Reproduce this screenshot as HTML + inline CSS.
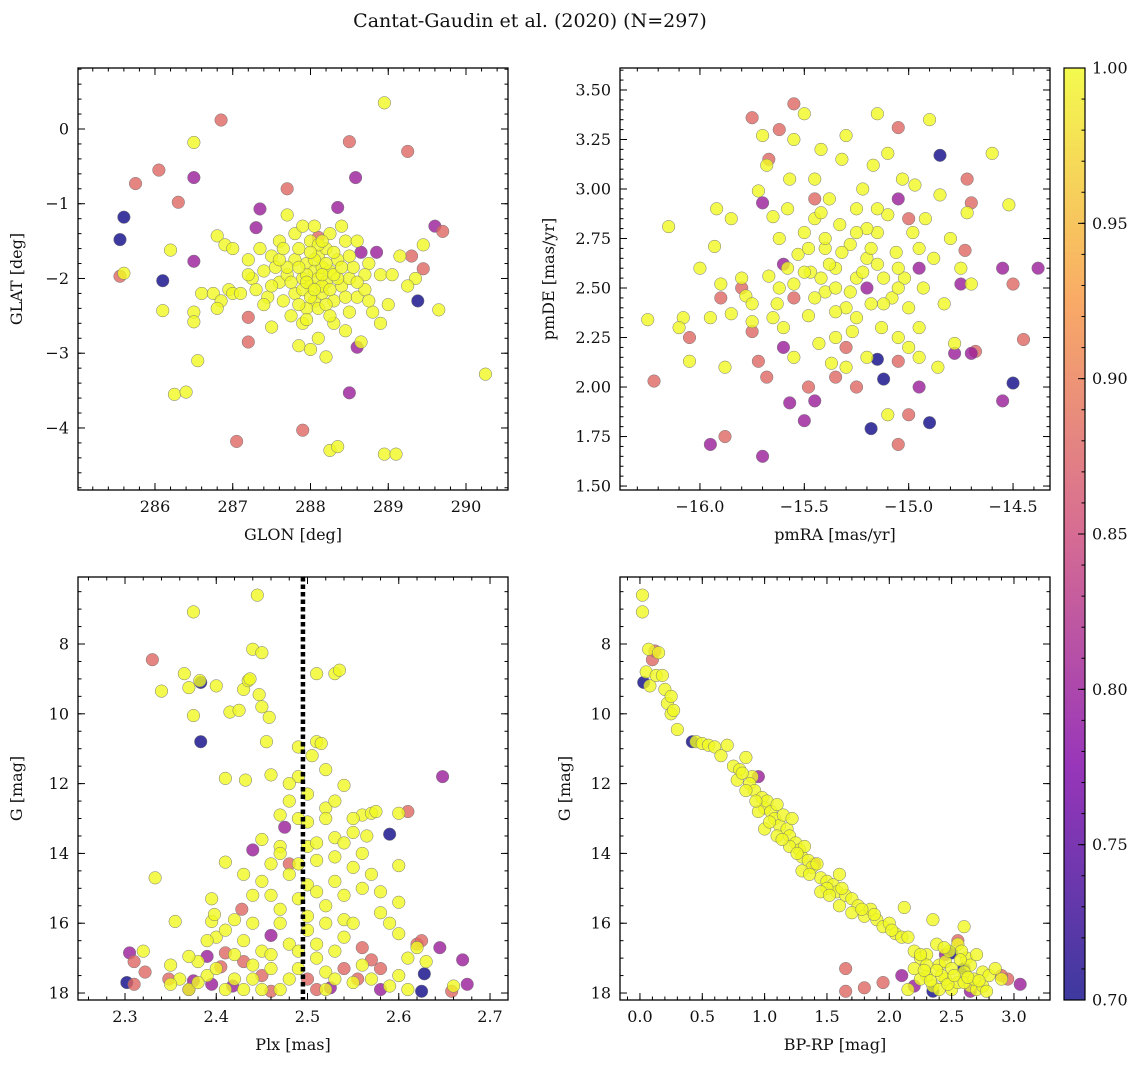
<!DOCTYPE html>
<html><head><meta charset="utf-8"><style>
html,body{margin:0;padding:0;background:#fff;}
svg text{font-family:"DejaVu Serif","Liberation Serif",serif;fill:#111;}
</style></head><body>
<svg id="fig" width="1148" height="1067" viewBox="0 0 1148 1067" xmlns="http://www.w3.org/2000/svg">
<defs>
<linearGradient id="cmap" x1="0" y1="1" x2="0" y2="0">
<stop offset="0" stop-color="#0d0887"/><stop offset="0.25" stop-color="#7e03a8"/>
<stop offset="0.5" stop-color="#cc4778"/><stop offset="0.75" stop-color="#f89540"/>
<stop offset="1" stop-color="#f0f921"/></linearGradient></defs>
<text x="530" y="27" font-size="19" text-anchor="middle">Cantat-Gaudin et al. (2020) (N=297)</text>
</svg>
<script>
// ---- data: [x, y, membership probability] ----
const p1Data=[[285.55,-1.48,0.7],[285.6,-1.18,0.7],[285.55,-1.97,0.88],[285.75,-0.73,0.88],[286.05,-0.55,0.88],[286.1,-2.03,0.7],[286.3,-0.98,0.88],[286.5,-0.65,0.8],[286.5,-1.77,0.8],[286.85,0.12,0.88],[287.05,-4.18,0.88],[287.2,-2.52,0.88],[287.2,-2.85,0.88],[287.3,-1.32,0.8],[287.35,-1.07,0.8],[287.7,-0.8,0.88],[287.9,-4.03,0.88],[288.35,-1.05,0.8],[288.5,-0.17,0.88],[288.5,-3.53,0.8],[288.58,-0.65,0.8],[288.6,-2.92,0.8],[288.65,-1.65,0.8],[288.85,-1.65,0.8],[289.25,-0.3,0.88],[289.3,-1.7,0.88],[289.38,-2.3,0.7],[289.45,-1.87,0.88],[289.6,-1.3,0.8],[289.7,-1.37,0.88],[288.1,-1.45,0.88],
[285.6,-1.93,1],[286.1,-2.43,1],[286.2,-1.62,1],[286.25,-3.55,1],[286.4,-3.52,1],[286.5,-0.18,1],[286.5,-2.45,1],[286.5,-2.58,1],[286.55,-3.1,1],[286.6,-2.2,1],[286.75,-2.2,1],[286.8,-1.43,1],[286.85,-2.3,1],[286.9,-1.55,1],[286.95,-2.15,1],[287.0,-2.2,1],[287.1,-2.2,1],[287.2,-1.75,1],[287.25,-2.0,1],[287.3,-2.15,1],[287.35,-1.6,1],[287.4,-1.9,1],[287.45,-2.25,1],[287.5,-1.7,1],[287.55,-1.85,1],[287.6,-1.5,1],[287.6,-2.05,1],[287.65,-2.3,1],[287.7,-1.15,1],[287.7,-1.95,1],[287.75,-2.5,1],[287.8,-1.75,1],[287.8,-2.2,1],[287.85,-1.6,1],[287.9,-2.0,1],[287.9,-2.6,1],[287.95,-1.8,1],[288.0,-2.1,1],[288.0,-2.95,1],[288.0,-1.5,1],[288.05,-1.9,1],[288.05,-2.3,1],[288.1,-1.7,1],[288.1,-2.0,1],[288.1,-2.8,1],[288.15,-1.85,1],[288.15,-2.2,1],[288.2,-1.6,1],[288.2,-2.05,1],[288.2,-3.05,1],[288.25,-1.4,1],[288.25,-1.9,1],[288.25,-4.3,1],[288.3,-2.3,1],[288.3,-2.6,1],[288.35,-1.75,1],[288.35,-4.25,1],[288.4,-2.1,1],[288.4,-1.3,1],[288.45,-1.5,1],[288.5,-2.0,1],[288.5,-2.45,1],[288.55,-1.85,1],[288.6,-2.25,1],[288.65,-2.85,1],[288.7,-2.15,1],[288.75,-1.8,1],[288.8,-2.45,1],[288.9,-1.95,1],[288.9,-2.6,1],[288.95,-4.35,1],[288.95,0.35,1],[289.0,-2.35,1],[289.05,-1.95,1],[289.1,-4.35,1],[289.15,-1.7,1],[289.35,-2.0,1],[289.45,-1.55,1],[289.65,-2.42,1],[290.25,-3.28,1],[287.5,-2.65,1],[287.0,-1.6,1],[286.8,-2.4,1],[288.6,-1.5,1],[287.85,-2.9,1],[287.95,-2.4,1],[288.3,-1.65,1],[287.2,-1.95,1],[288.75,-2.3,1],[289.25,-2.1,1],[288.45,-2.7,1],[287.95,-1.95,1],[288.05,-1.75,1],[288.15,-2.1,1],[287.9,-2.15,1],[288.2,-1.8,1],[288.0,-2.25,1],[288.1,-1.55,1],[287.8,-1.4,1],[288.35,-2.0,1],[287.7,-1.85,1],
[287.85,-1.85,1],[287.95,-2.05,1],[288.05,-2.15,1],[288.15,-1.95,1],[288.25,-2.15,1],[287.75,-2.05,1],[288.0,-1.65,1],[288.1,-2.4,1],[287.9,-1.3,1],[288.3,-1.95,1],[288.4,-1.85,1],[287.6,-1.75,1],[287.5,-2.1,1],[288.5,-1.7,1],[288.2,-2.35,1],[287.95,-2.55,1],[288.05,-1.3,1],[287.65,-1.6,1],[288.45,-2.25,1],[288.7,-1.95,1],[287.4,-2.35,1],[288.6,-2.05,1],[287.85,-2.35,1],[288.25,-2.5,1],[288.15,-1.5,1]];
const p2Data=[[-15.75,3.36,0.88],[-15.55,3.43,0.88],[-15.62,3.3,0.88],[-15.67,3.15,0.88],[-15.05,3.31,0.88],[-14.85,3.17,0.7],[-14.72,3.05,0.88],[-14.7,2.93,0.88],[-14.73,2.69,0.88],[-14.75,2.52,0.8],[-14.55,2.6,0.8],[-14.38,2.6,0.8],[-14.5,2.52,0.88],[-14.45,2.24,0.88],[-14.68,2.18,0.88],[-14.7,2.17,0.8],[-14.78,2.17,0.8],[-14.5,2.02,0.7],[-14.55,1.93,0.8],[-14.95,2.0,0.8],[-14.9,1.82,0.7],[-15.0,1.86,0.88],[-15.05,1.71,0.88],[-15.05,2.13,0.88],[-15.15,2.14,0.7],[-15.12,2.04,0.7],[-15.18,1.79,0.7],[-15.45,1.93,0.8],[-15.5,1.83,0.8],[-15.7,1.65,0.8],[-15.95,1.71,0.8],[-15.88,1.75,0.88],[-16.22,2.03,0.88],[-16.05,2.25,0.88],[-15.9,2.45,0.88],[-15.75,2.28,0.88],[-15.72,2.13,0.88],[-15.68,2.05,0.88],[-15.6,2.2,0.8],[-15.6,2.62,0.8],[-15.57,1.92,0.8],[-15.7,2.93,0.8],[-15.48,2.0,0.88],[-15.3,2.2,0.88],[-15.35,2.05,0.88],[-15.0,2.85,0.88],[-15.05,2.95,0.8],[-14.95,2.6,0.8],[-15.8,2.5,0.88],[-15.45,2.95,0.88],[-15.25,2.0,0.88],[-15.55,2.45,0.88],[-15.2,2.5,0.8],
[-16.25,2.34,1],[-16.15,2.81,1],[-16.08,2.35,1],[-16.05,2.13,1],[-16.0,2.6,1],[-15.95,2.35,1],[-15.93,2.71,1],[-15.92,2.9,1],[-15.9,2.52,1],[-15.88,2.1,1],[-15.85,2.37,1],[-15.8,2.55,1],[-15.78,2.46,1],[-15.75,2.33,1],[-15.72,2.99,1],[-15.7,3.27,1],[-15.68,3.12,1],[-15.67,2.56,1],[-15.65,2.86,1],[-15.63,2.42,1],[-15.62,2.75,1],[-15.6,2.3,1],[-15.58,2.9,1],[-15.57,3.05,1],[-15.55,2.52,1],[-15.55,2.15,1],[-15.53,2.67,1],[-15.5,3.38,1],[-15.5,2.78,1],[-15.48,2.36,1],[-15.47,2.58,1],[-15.45,2.85,1],[-15.43,2.22,1],[-15.42,3.2,1],[-15.4,2.48,1],[-15.4,2.7,1],[-15.38,2.95,1],[-15.37,2.12,1],[-15.35,2.6,1],[-15.33,2.82,1],[-15.32,3.15,1],[-15.3,2.4,1],[-15.3,3.27,1],[-15.28,2.72,1],[-15.27,2.28,1],[-15.25,2.55,1],[-15.25,2.9,1],[-15.22,3.0,1],[-15.2,2.65,1],[-15.2,2.15,1],[-15.18,2.42,1],[-15.17,3.12,1],[-15.15,2.78,1],[-15.13,2.3,1],[-15.12,2.55,1],[-15.1,2.87,1],[-15.1,3.18,1],[-15.08,2.45,1],[-15.06,2.68,1],[-15.05,2.25,1],[-15.03,3.05,1],[-15.02,2.55,1],[-15.0,2.4,1],[-14.98,2.78,1],[-14.97,3.02,1],[-14.95,2.3,1],[-14.93,2.5,1],[-14.92,2.85,1],[-14.9,3.35,1],[-14.88,2.65,1],[-14.86,2.1,1],[-14.85,2.97,1],[-14.83,2.42,1],[-14.8,2.75,1],[-14.78,2.22,1],[-14.75,2.6,1],[-14.72,2.88,1],[-14.6,3.18,1],[-14.52,2.92,1],[-14.7,2.52,1],[-15.45,3.05,1],[-15.35,2.5,1],[-15.15,2.62,1],[-15.3,2.1,1],[-15.45,2.45,1],[-15.25,2.35,1],[-15.05,2.6,1],[-15.4,2.75,1],[-15.2,2.8,1],[-15.65,2.35,1],[-15.0,2.2,1],[-15.1,1.86,1],[-15.35,2.25,1],[-15.5,2.58,1],[-15.75,2.42,1],[-16.1,2.3,1],[-15.85,2.85,1],[-14.95,2.15,1],[-15.55,3.25,1],[-15.15,3.38,1],
[-15.38,2.62,1],[-15.28,2.48,1],[-15.32,2.68,1],[-15.22,2.58,1],[-15.42,2.55,1],[-15.18,2.7,1],[-15.48,2.7,1],[-15.12,2.42,1],[-15.35,2.38,1],[-15.25,2.78,1],[-15.58,2.6,1],[-15.05,2.5,1],[-15.42,2.88,1],[-15.15,2.9,1],[-15.62,2.5,1],[-14.95,2.7,1]];
const p3Data=[[2.302,17.7,0.7],[2.305,16.85,0.8],[2.31,17.1,0.88],[2.31,17.75,0.88],[2.322,17.4,0.88],[2.33,8.45,0.88],[2.348,17.6,0.88],[2.37,17.9,0.8],[2.375,17.65,0.8],[2.383,9.1,0.7],[2.383,10.8,0.7],[2.39,16.95,0.8],[2.395,17.75,0.8],[2.405,17.25,0.88],[2.41,16.85,0.88],[2.418,17.8,0.8],[2.428,15.6,0.88],[2.43,17.1,0.88],[2.44,13.9,0.8],[2.45,17.5,0.88],[2.46,17.95,0.88],[2.475,13.25,0.8],[2.48,14.3,0.88],[2.5,17.6,0.88],[2.51,17.9,0.88],[2.54,17.3,0.88],[2.555,17.6,0.88],[2.57,17.05,0.88],[2.58,17.3,0.88],[2.58,17.9,0.8],[2.59,13.45,0.7],[2.61,12.8,0.88],[2.62,16.6,0.88],[2.625,16.5,0.88],[2.628,17.45,0.7],[2.625,17.95,0.7],[2.645,16.7,0.8],[2.648,11.8,0.8],[2.658,17.95,0.88],[2.67,17.05,0.8],[2.675,17.75,0.8],[2.56,16.7,0.88],[2.525,17.85,0.8],[2.46,16.35,0.8],
[2.333,14.7,1],[2.34,9.35,1],[2.355,15.95,1],[2.365,8.85,1],[2.37,9.25,1],[2.375,7.08,1],[2.375,10.05,1],[2.382,9.05,1],[2.395,15.3,1],[2.395,15.95,1],[2.398,15.75,1],[2.4,9.2,1],[2.41,11.85,1],[2.41,14.25,1],[2.415,9.95,1],[2.425,9.9,1],[2.43,9.3,1],[2.432,11.9,1],[2.435,9.05,1],[2.437,9.0,1],[2.44,8.15,1],[2.445,6.6,1],[2.447,9.45,1],[2.45,8.25,1],[2.45,9.8,1],[2.455,10.8,1],[2.458,10.1,1],[2.46,11.75,1],[2.47,12.9,1],[2.48,12.5,1],[2.49,10.95,1],[2.49,11.8,1],[2.49,13.0,1],[2.5,13.8,1],[2.5,12.3,1],[2.505,11.2,1],[2.51,10.8,1],[2.515,10.85,1],[2.51,8.85,1],[2.52,11.6,1],[2.52,12.7,1],[2.53,8.85,1],[2.535,8.75,1],[2.53,13.55,1],[2.54,12.05,1],[2.55,14.4,1],[2.56,12.9,1],[2.57,12.85,1],[2.575,12.8,1],[2.565,13.5,1],[2.6,12.85,1],[2.6,14.35,1],[2.54,15.9,1],[2.55,16.0,1],[2.59,16.0,1],[2.6,16.3,1],[2.61,17.0,1],[2.62,16.7,1],[2.45,14.8,1],[2.46,15.2,1],[2.47,13.8,1],[2.48,14.6,1],[2.49,15.3,1],[2.5,14.9,1],[2.51,14.2,1],[2.52,15.5,1],[2.53,14.8,1],[2.47,16.0,1],[2.48,16.6,1],[2.5,16.2,1],[2.45,16.8,1],[2.44,17.2,1],[2.43,16.5,1],[2.42,17.6,1],[2.41,17.9,1],[2.4,16.4,1],[2.38,17.1,1],[2.36,17.6,1],[2.35,17.2,1],[2.37,17.9,1],[2.39,17.5,1],[2.45,17.9,1],[2.46,17.3,1],[2.48,17.6,1],[2.52,17.4,1],[2.53,16.8,1],[2.55,17.7,1],[2.56,17.2,1],[2.57,17.6,1],[2.59,17.8,1],[2.6,17.5,1],[2.61,17.9,1],[2.54,16.4,1],[2.52,16.0,1],[2.42,15.9,1],[2.44,15.2,1],[2.45,13.6,1],[2.46,14.3,1],[2.5,13.1,1],[2.51,13.7,1],[2.53,14.1,1],[2.55,13.4,1],[2.56,14.0,1],[2.57,14.6,1],[2.58,15.1,1],[2.6,15.4,1],[2.47,15.6,1],[2.49,16.8,1],[2.51,17.0,1],[2.54,15.2,1],[2.43,14.6,1],[2.48,12.0,1],[2.53,12.5,1],[2.55,13.0,1],[2.58,15.7,1],[2.52,17.9,1],[2.47,17.9,1],[2.43,17.9,1],[2.4,17.3,1],[2.39,16.5,1],[2.63,17.1,1],[2.66,17.8,1],[2.32,16.8,1],[2.35,17.75,1],[2.37,16.95,1],[2.51,16.6,1],[2.5,15.8,1],[2.49,14.3,1],[2.51,15.1,1],[2.52,13.0,1],[2.54,13.7,1],[2.56,15.0,1],[2.47,14.0,1],[2.44,16.0,1],[2.41,16.2,1],
[2.44,17.6,1],[2.46,16.9,1],[2.49,17.3,1],[2.42,16.9,1],[2.38,17.7,1],[2.53,17.6,1]];
const p4Data=[[0.03,9.1,0.7],[0.42,10.8,0.7],[0.1,8.45,0.88],[0.12,8.2,0.88],[0.95,11.8,0.8],[1.4,14.3,0.88],[1.65,17.3,0.88],[1.65,17.95,0.88],[1.8,17.85,0.88],[1.95,17.7,0.88],[2.1,17.5,0.8],[2.2,17.8,0.8],[2.45,16.9,0.8],[2.55,16.5,0.88],[2.6,17.3,0.7],[2.5,16.85,0.7],[2.35,17.95,0.7],[2.95,17.6,0.88],[3.05,17.75,0.8],[2.9,17.5,0.88],[2.65,17.95,0.8],
[0.02,6.6,1],[0.02,7.08,1],[0.05,8.8,1],[0.07,8.15,1],[0.08,9.2,1],[0.13,8.9,1],[0.15,8.25,1],[0.18,8.9,1],[0.2,9.3,1],[0.22,9.7,1],[0.25,10.0,1],[0.25,9.5,1],[0.3,10.45,1],[0.27,9.9,1],[0.45,10.8,1],[0.5,10.85,1],[0.55,10.9,1],[0.6,10.95,1],[0.65,11.2,1],[0.7,10.9,1],[0.75,11.5,1],[0.8,11.6,1],[0.85,11.25,1],[0.9,11.8,1],[0.88,12.0,1],[0.92,12.2,1],[0.98,12.4,1],[1.0,12.7,1],[1.02,12.5,1],[1.05,12.8,1],[1.08,13.0,1],[1.1,12.6,1],[1.12,13.2,1],[1.15,12.9,1],[1.18,13.3,1],[1.2,13.5,1],[1.22,13.0,1],[1.25,13.7,1],[1.28,13.9,1],[1.3,14.1,1],[1.32,13.8,1],[1.35,14.2,1],[1.38,14.4,1],[1.42,14.3,1],[1.45,14.7,1],[1.5,14.8,1],[1.55,14.9,1],[1.58,15.1,1],[1.6,14.6,1],[1.65,15.2,1],[1.7,15.3,1],[1.75,15.5,1],[1.8,15.8,1],[1.85,15.6,1],[1.9,15.9,1],[1.95,16.1,1],[2.0,16.0,1],[2.05,16.3,1],[2.1,16.4,1],[2.12,15.55,1],[2.15,16.4,1],[2.2,16.8,1],[2.25,17.0,1],[2.3,16.9,1],[2.35,15.9,1],[2.4,17.2,1],[2.45,17.1,1],[2.5,17.3,1],[2.55,16.6,1],[2.6,16.1,1],[2.62,17.0,1],[2.65,17.2,1],[2.7,16.9,1],[2.75,17.4,1],[2.8,17.5,1],[2.85,17.3,1],[2.9,17.6,1],[2.3,17.5,1],[2.35,17.8,1],[2.4,17.9,1],[2.45,17.6,1],[2.5,17.9,1],[2.55,17.7,1],[2.6,17.4,1],[2.65,17.8,1],[2.7,17.9,1],[2.75,17.8,1],[2.25,17.6,1],[2.2,17.3,1],[2.15,17.9,1],[2.38,16.6,1],[2.48,16.8,1],[2.58,16.8,1],[1.0,13.3,1],[1.1,13.5,1],[1.2,13.8,1],[1.3,14.5,1],[1.5,15.0,1],[1.45,15.1,1],[0.95,12.8,1],[0.85,12.2,1],[1.6,15.5,1],[1.7,15.7,1],[2.3,17.2,1],[2.42,17.5,1],[2.6,17.7,1],[2.68,17.6,1],
[0.78,11.9,1],[0.82,11.7,1],[0.93,12.5,1],[1.04,13.1,1],[1.14,13.6,1],[1.26,14.0,1],[1.36,14.6,1],[1.52,15.2,1],[1.62,15.0,1],[1.78,15.6,1],[1.88,15.75,1],[2.02,16.2,1],[2.28,17.35,1],[2.33,17.65,1],[2.38,17.35,1],[2.47,17.75,1],[2.52,17.5,1],[2.57,17.05,1],[2.63,17.55,1],[2.72,17.65,1],[2.78,17.95,1],[2.44,16.7,1],[2.25,16.9,1]];
const p1XTicks=[286,287,288,289,290], p1YTicks=[0,-1,-2,-3,-4];
const p2XTicks=[-16.0,-15.5,-15.0,-14.5], p2YTicks=[1.5,1.75,2.0,2.25,2.5,2.75,3.0,3.25,3.5];
const p3XTicks=[2.3,2.4,2.5,2.6,2.7], gTicks=[8,10,12,14,16,18];
const p4XTicks=[0,0.5,1.0,1.5,2.0,2.5,3.0];
const cbTicks=[0.70,0.75,0.80,0.85,0.90,0.95,1.00];
const plxMean=[2.495];

const NS="http://www.w3.org/2000/svg", svg=document.getElementById('fig');
function mk(t,a,parent){const e=document.createElementNS(NS,t);for(const k in a)e.setAttribute(k,a[k]);(parent||svg).appendChild(e);return e;}
const stops=[[0,[13,8,135]],[0.25,[126,3,168]],[0.5,[204,71,120]],[0.75,[248,149,64]],[1,[240,249,33]]];
function cmap(p){let t=Math.max(0,Math.min(1,(p-0.7)/0.3));for(let i=0;i<4;i++){const[a,c1]=stops[i],[b,c2]=stops[i+1];if(t<=b){const f=(t-a)/(b-a);return 'rgb('+c1.map((v,j)=>Math.round(v+(c2[j]-v)*f)).join(',')+')';}}return 'rgb(240,249,33)';}
function fmt(v,d){return (v<0?'\u2212':'')+Math.abs(v).toFixed(d);}

function panel(o){
  const g=mk('g',{});
  
  
  const sx=v=>o.x+(v-o.x0)/(o.x1-o.x0)*o.w, sy=v=>o.y+o.h-(v-o.y0)/(o.y1-o.y0)*o.h;
  const pg=mk('g',{},g);
  o.data.forEach(d=>{const c=mk('circle',{cx:sx(d[0]),cy:sy(d[1]),r:6.3,fill:cmap(d[2]),'fill-opacity':0.8,stroke:'#777','stroke-width':0.5},pg);
    
    });
  if(o.vline){o.vline.forEach(v=>{const l=mk('line',{x1:sx(v),x2:sx(v),y1:o.y,y2:o.y+o.h,stroke:'#000','stroke-width':4.5,'stroke-dasharray':'4.5,3'},g);
    
    });}
  mk('rect',{x:o.x,y:o.y,width:o.w,height:o.h,fill:'none',stroke:'#000','stroke-width':1.3},g);
  const tk=(x1,y1,x2,y2)=>mk('line',{x1,y1,x2,y2,stroke:'#000','stroke-width':1},g);
  const lo=Math.ceil(o.x0/o.xm-1e-9);for(let i=lo;i*o.xm<=o.x1;i++){const X=sx(i*o.xm);tk(X,o.y,X,o.y+3.5);tk(X,o.y+o.h,X,o.y+o.h-3.5);}
  const lo2=Math.ceil(o.y0/o.ym-1e-9);for(let i=lo2;i*o.ym<=o.y1;i++){const Y=sy(i*o.ym);tk(o.x,Y,o.x+3.5,Y);tk(o.x+o.w,Y,o.x+o.w-3.5,Y);}
  o.xt.forEach(v=>{const X=sx(v);tk(X,o.y,X,o.y+7);tk(X,o.y+o.h,X,o.y+o.h-7);
    const t=mk('text',{x:X,y:o.y+o.h+22,'font-size':16,'text-anchor':'middle'},g);t.textContent=fmt(v,o.xd);
    
    });
  o.yt.forEach(v=>{const Y=sy(v);tk(o.x,Y,o.x+7,Y);tk(o.x+o.w,Y,o.x+o.w-7,Y);
    const t=mk('text',{x:o.x-9,y:Y+5.5,'font-size':16,'text-anchor':'end'},g);t.textContent=o.neg?fmt(-v,o.yd):fmt(v,o.yd);
    
    });
  const xl=mk('text',{x:o.x+o.w/2,y:o.y+o.h+50,'font-size':16,'text-anchor':'middle'},g);xl.textContent=o.xl;
  
  
  const yx=o.x-o.ylo, yy=o.y+o.h/2;
  const yl=mk('text',{x:yx,y:yy,'font-size':16,'text-anchor':'middle',transform:`rotate(-90 ${yx} ${yy})`},g);yl.textContent=o.yl;
  
  
}
panel({name:'glon-glat-panel',x:78,y:68,w:430,h:422,x0:285.01,x1:290.54,y0:-4.83,y1:0.816,xm:0.2,ym:0.2,xt:p1XTicks,yt:p1YTicks,xd:0,yd:0,xl:'GLON [deg]',yl:'GLAT [deg]',ylo:56,data:p1Data});
panel({name:'proper-motion-panel',x:620,y:68,w:430,h:422,x0:-16.383,x1:-14.323,y0:1.48,y1:3.611,xm:0.1,ym:0.05,xt:p2XTicks,yt:p2YTicks,xd:1,yd:2,xl:'pmRA [mas/yr]',yl:'pmDE [mas/yr]',ylo:66,data:p2Data});
panel({name:'parallax-magnitude-panel',x:78,y:577,w:430,h:423,x0:2.2485,x1:2.7197,y0:-18.2,y1:-6.08,xm:0.02,ym:0.5,xt:p3XTicks,yt:gTicks.map(v=>-v),neg:true,xd:1,yd:0,xl:'Plx [mas]',yl:'G [mag]',ylo:56,data:p3Data.map(d=>[d[0],-d[1],d[2]]),vline:plxMean});
panel({name:'cmd-panel',x:620,y:577,w:430,h:423,x0:-0.16,x1:3.289,y0:-18.2,y1:-6.08,xm:0.1,ym:0.5,xt:p4XTicks,yt:gTicks.map(v=>-v),neg:true,xd:1,yd:0,xl:'BP-RP [mag]',yl:'G [mag]',ylo:50,data:p4Data.map(d=>[d[0],-d[1],d[2]])});
const cb=mk('g',{});


mk('rect',{x:1064,y:68,width:21,height:932,fill:'url(#cmap)','fill-opacity':0.8,stroke:'#000','stroke-width':1.2},cb);
for(let v=0.70;v<=1.0001;v+=0.01){const Y=1000-(v-0.7)/0.3*932;mk('line',{x1:1085,x2:1081.5,y1:Y,y2:Y,stroke:'#000','stroke-width':1},cb);}
cbTicks.forEach(v=>{const Y=1000-(v-0.7)/0.3*932;mk('line',{x1:1085,x2:1078,y1:Y,y2:Y,stroke:'#000','stroke-width':1},cb);
  const t=mk('text',{x:1092,y:Y+5.5,'font-size':16},cb);t.textContent=v.toFixed(2);
  
  });
</script>
</body></html>
